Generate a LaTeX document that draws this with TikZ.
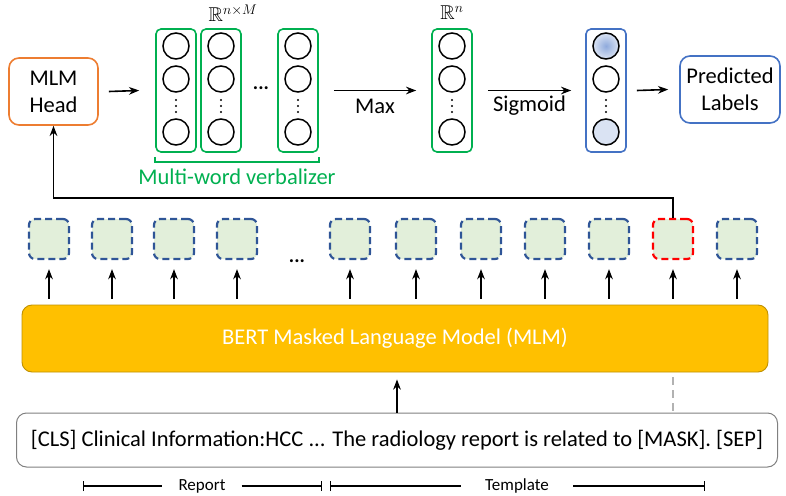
\RequirePackage{fix-cm}
\documentclass[tikz,border=0pt]{standalone}
\usepackage{amssymb}
\usepackage{fontspec}
\setmainfont{Carlito}
\usetikzlibrary{arrows.meta}

\definecolor{vgreen}{HTML}{00B050}
\definecolor{hdorange}{HTML}{ED7D31}
\definecolor{pblue}{HTML}{4472C4}
\definecolor{tokblue}{HTML}{2F5597}
\definecolor{tokfill}{HTML}{E2EFDA}
\definecolor{bertfill}{HTML}{FFC000}
\definecolor{bertline}{HTML}{BF9000}
\definecolor{lblue}{HTML}{DAE3F3}
\definecolor{mblue}{HTML}{8FAADC}

% one column of output units
\newcommand{\vcolumn}[5]{%
  \node[vcol,draw=#3] (#1) at (#2,90.5) {};
  \node[vunit,#4] (#1a) at (#2,46) {};
  \node[vunit] (#1b) at (#2,79) {};
  \foreach \y in {100,106,112} \fill (#2,\y) circle (1.2pt);
  \node[vunit,#5] (#1c) at (#2,132) {};
}

\begin{document}
\begin{tikzpicture}[x=1pt,y=-1pt,>=Stealth,
    every node/.style={font=\fontsize{22.5}{27}\selectfont},
    vcol/.style={rounded corners=5pt,line width=1.6pt,minimum width=40pt,minimum height=123pt},
    vunit/.style={circle,draw,line width=1.5pt,minimum size=26pt,inner sep=0pt},
    tokbox/.style={dash pattern=on 7pt off 4pt,line width=2.2pt,fill=tokfill,rounded corners=6pt,minimum size=40pt},
    lbox/.style={draw,rounded corners=10pt,line width=1.6pt,align=center},
    arr/.style={->,line width=1.6pt}]
  \useasboundingbox (0,0) rectangle (786,495);

  % top row
  \node[lbox,draw=hdorange,minimum width=89pt,minimum height=67pt] (head) at (53.5,91.5) {MLM\\Head};
  \foreach \n/\x in {v1/176,v2/221,v3/298}
    \vcolumn{\n}{\x}{vgreen}{}{};
  \vcolumn{rn}{452}{vgreen}{}{}
  \vcolumn{sg}{606}{pblue}{shading=radial,inner color=mblue,outer color=lblue}{fill=lblue}
  \node[lbox,draw=pblue,minimum width=100pt,minimum height=67pt] (pred) at (730,89.5) {Predicted\\Labels};
  \node[font=\bfseries\fontsize{20}{24}\selectfont] (vdots) at (261,88) {...};
  \node[font=\fontsize{20}{20}\selectfont] (rnm) at (233,13) {$\mathbb{R}^{n\times M}$};
  \node[font=\fontsize{20}{20}\selectfont] (rn1) at (452,13) {$\mathbb{R}^{n}$};

  \draw[arr] ([xshift=10pt]head.east) -- ([xshift=-16pt]v1.west);
  \draw[arr] ([xshift=15pt]v3.east) -- node[below=4pt] {Max} ([xshift=-15pt]rn.west);
  \draw[arr] ([xshift=15pt]rn.east) -- node[below=1pt] {Sigmoid} ([xshift=-14pt]sg.west);
  \draw[arr] ([xshift=10pt]sg.east) -- ([xshift=-11pt]pred.west);

  \draw[vgreen,line width=1.6pt] ([yshift=-4pt]v1.south west) -- ([yshift=-9pt]v1.south west)
    -- ([yshift=-9pt]v3.south east) -- ([yshift=-4pt]v3.south east);
  \node[text=vgreen] (verb) at (237,177) {Multi-word verbalizer};

  % encoder
  \node[lbox,fill=bertfill,draw=bertline,line width=0.9pt,text=white,minimum width=746pt,minimum height=67pt] (bert) at (395,338.5) {BERT Masked Language Model (MLM)};
  \foreach \i/\x/\c in {1/49/tokblue,2/112/tokblue,3/174/tokblue,4/237/tokblue,5/350/tokblue,6/416/tokblue,
      7/481/tokblue,8/545/tokblue,9/609/tokblue,10/673/red,11/737/tokblue} {
    \node[tokbox,draw=\c] (tok\i) at (\x,239) {};
    \draw[arr,shorten <=6pt,shorten >=9pt] (tok\i |- bert.north) -- (tok\i.south);
  }
  \node[font=\bfseries\fontsize{20}{24}\selectfont] (tdots) at (297,261) {...};

  \coordinate (fb) at (0,198);
  \draw[arr] (tok10.north) -- (tok10.north |- fb) -| (head.south);

  % input
  \node[lbox,draw=gray,line width=1pt,minimum width=761pt,minimum height=54pt] (inp) at (397,440)
    {[CLS] Clinical Information:HCC ... The radiology report is related to [MASK]. [SEP]};
  \draw[arr,shorten >=7pt] (inp.north) -- (inp.north |- bert.south);
  \draw[gray!60,dashed,dash pattern=on 8pt off 5pt,line width=2pt,shorten <=5pt] (tok10 |- bert.south) -- (tok10 |- inp.north);

  % spans
  \tikzset{span/.style={font=\fontsize{17}{17}\selectfont,inner xsep=16pt}}
  \coordinate (r0) at (83,486);
  \coordinate (r1) at (322,486);
  \coordinate (t0) at (330,486);
  \coordinate (t1) at (705,486);
  \node[span] (rep) at (202,486) {Report};
  \node[span,inner xsep=24pt] (tpl) at (517,486) {Template};
  \draw[{Bar[width=10pt]}-,line width=1.2pt] (r0) -- (rep.west);
  \draw[-{Bar[width=10pt]},line width=1.2pt] (rep.east) -- (r1);
  \draw[{Bar[width=10pt]}-,line width=1.2pt] (t0) -- (tpl.west);
  \draw[-{Bar[width=10pt]},line width=1.2pt] (tpl.east) -- (t1);
\end{tikzpicture}
\end{document}
